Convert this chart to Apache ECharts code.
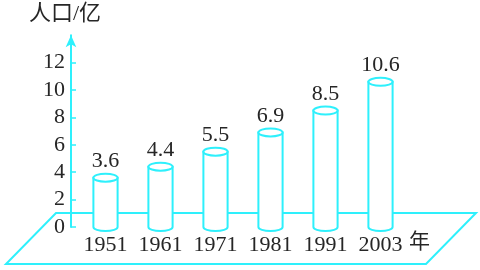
<!DOCTYPE html>
<html><head><meta charset="utf-8">
<script src="https://cdn.jsdelivr.net/npm/echarts@6/dist/echarts.min.js"></script>
<style>html,body{margin:0;padding:0;background:#fff}#c{width:480px;height:270px}</style>
</head><body><div id="c"></div>
<script>
// ---- data ----
const years = ['1951', '1961', '1971', '1981', '1991', '2003'];
const population = [3.6, 4.4, 5.5, 6.9, 8.5, 10.6];
const yTicks = [0, 2, 4, 6, 8, 10, 12];
const yName = '人口/亿';
const xName = '年';

// ---- style ----
const CYAN = '#2ef0fc';
const TEXT = '#262626';
const SERIF = '"Liberation Serif","Times New Roman",serif';
const CJK = '"Liberation Serif","Noto Sans CJK SC",sans-serif';

const chart = echarts.init(document.getElementById('c'), null, {renderer: 'canvas'});

function renderFloor(params, api) {
  const cs = params.coordSys;
  const y0 = cs.y + cs.height;
  const backY = y0 - 14, frontY = y0 + 37;
  const bl = cs.x - 22, br = cs.x + cs.width + 68, shift = 50;
  return {
    type: 'polygon',
    shape: {points: [[bl, backY], [br, backY], [br - shift, frontY], [bl - shift, frontY]]},
    style: {fill: 'none', stroke: CYAN, lineWidth: 2}
  };
}

function renderCylinder(params, api) {
  const i = api.value(0), v = api.value(1);
  const top = api.coord([i, v]);
  const base = api.coord([i, 0]);
  const w = api.size([1, 0])[0] * 0.44;
  const rx = w / 2, ry = 4;
  const cx = top[0], l = cx - rx, r = cx + rx;
  const body = `M${l} ${top[1]} L${l} ${base[1]} A${rx} ${ry} 0 0 0 ${r} ${base[1]} L${r} ${top[1]} Z`;
  const cap = `M${l} ${top[1]} A${rx} ${ry} 0 1 0 ${r} ${top[1]} A${rx} ${ry} 0 1 0 ${l} ${top[1]} Z`;
  return {
    type: 'group',
    children: [
      {type: 'path', shape: {pathData: body}, style: {fill: '#fff', stroke: CYAN, lineWidth: 2}},
      {type: 'path', shape: {pathData: cap}, style: {fill: '#fff', stroke: CYAN, lineWidth: 2}},
      {type: 'text', x: cx, y: top[1] - ry - 12.5,
        style: {text: String(v), fill: TEXT, fontFamily: SERIF, fontSize: 22, align: 'center', verticalAlign: 'middle'}}
    ]
  };
}

chart.setOption({
  backgroundColor: '#fff',
  animation: false,
  grid: {left: 78, right: 72, top: 35.2, bottom: 43},
  xAxis: {
    type: 'category', data: years,
    axisLine: {show: false}, axisTick: {show: false}, splitLine: {show: false},
    axisLabel: {interval: 0, hideOverlap: false, margin: 7, fontFamily: SERIF, fontSize: 22, color: TEXT},
    name: xName, nameLocation: 'end', nameGap: 1,
    nameTextStyle: {fontFamily: CJK, fontSize: 21, color: TEXT, verticalAlign: 'top', align: 'left', padding: [5, 0, 0, 0]}
  },
  yAxis: {
    type: 'value', min: 0, max: 14, interval: 2, offset: 7,
    splitLine: {show: false},
    axisLine: {show: true, lineStyle: {color: CYAN, width: 2}, symbol: ['none', 'arrow'], symbolSize: [8, 12]},
    axisTick: {show: true, inside: true, length: 5, lineStyle: {color: CYAN, width: 1.5}, customValues: yTicks},
    axisLabel: {customValues: yTicks, margin: 6, fontFamily: SERIF, fontSize: 22, color: TEXT},
    name: yName, nameLocation: 'end', nameGap: 21,
    nameTextStyle: {fontFamily: CJK, fontSize: 22, color: TEXT, align: 'center', verticalAlign: 'middle', padding: [0, 12, 0, 0]}
  },
  series: [
    {type: 'custom', data: [[0, 0]], renderItem: renderFloor, silent: true, z: 1},
    {type: 'custom', data: population.map((v, i) => [i, v]), renderItem: renderCylinder, silent: true, z: 3}
  ]
});
</script>
</body></html>
